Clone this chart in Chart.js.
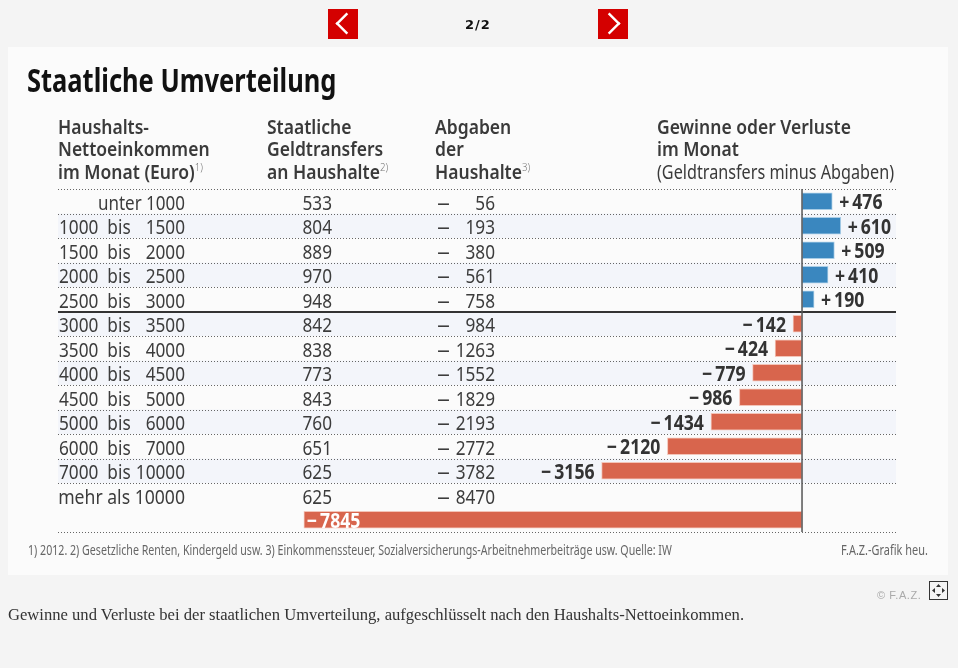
<!DOCTYPE html>
<html lang="de">
<head>
<meta charset="utf-8">
<title>Staatliche Umverteilung</title>
<script src="https://cdn.jsdelivr.net/npm/chart.js@4"></script>
<style>
  html, body { margin: 0; padding: 0; background: #f4f4f4; overflow: hidden; }
  body { width: 958px; height: 668px; position: relative; }
  #panel { position: absolute; left: 8px; top: 47px; width: 940px; height: 528px; background: #fbfbfb; }
  #chart { position: absolute; left: 0; top: 0; }
  .t { position: absolute; white-space: nowrap; transform-origin: left top; font-family: "Noto Sans", sans-serif; }
  .head { font-weight: 600; font-size: 20px; line-height: 22.4px; color: #3a3a3a; transform: scaleX(.875); }
  .head sup { font-weight: 300; font-size: 11px; line-height: 0; color: #777; }
  .btn { position: absolute; top: 9px; width: 30px; height: 30px; background: #d40000; }
  .btn i { position: absolute; top: 8px; width: 13px; height: 13px; border: solid #fff; border-width: 2px 0 0 2px; box-sizing: border-box; }
</style>
</head>
<body>
<div id="panel"></div>
<canvas id="chart" width="958" height="668"></canvas>

<div class="btn" style="left:328px"><i style="left:12px;transform:rotate(-45deg) scale(1.2)"></i></div>
<div class="btn" style="left:598px"><i style="left:5px;transform:rotate(135deg) scale(1.2)"></i></div>
<div class="t" style="left:465px;top:17px;font:bold 13px 'DejaVu Sans';letter-spacing:1px;color:#111">2/2</div>

<div class="t" style="left:27px;top:58px;font-weight:700;font-size:33px;line-height:44px;color:#111;transform:scaleX(.772)">Staatliche Umverteilung</div>
<div class="t head" style="left:58px;top:116px">Haushalts-<br>Nettoeinkommen<br>im Monat (Euro)<sup>1)</sup></div>
<div class="t head" style="left:267px;top:116px">Staatliche<br>Geldtransfers<br>an Haushalte<sup>2)</sup></div>
<div class="t head" style="left:435px;top:116px">Abgaben<br>der<br>Haushalte<sup>3)</sup></div>
<div class="t head" style="left:657px;top:116px">Gewinne oder Verluste<br>im Monat</div>
<div class="t head" style="left:657px;top:160.8px;font-weight:400;transform:scaleX(.81)">(Geldtransfers minus Abgaben)</div>

<div class="t" style="left:28px;top:541px;font-size:13.5px;color:#666;transform:scaleX(.788)">1) 2012. 2) Gesetzliche Renten, Kindergeld usw. 3) Einkommenssteuer, Sozialversicherungs-Arbeitnehmerbeiträge usw. Quelle: IW</div>
<div class="t" style="left:841px;top:541px;font-size:13.5px;color:#666;transform:scaleX(.81)">F.A.Z.-Grafik heu.</div>

<div class="t" style="left:877px;top:589px;font:11px 'Liberation Sans';letter-spacing:.55px;color:#aaa">© F.A.Z.</div>
<svg style="position:absolute;left:929px;top:581px" width="19" height="19">
  <rect x=".5" y=".5" width="18" height="18" fill="none" stroke="#333"/>
  <path d="M9.5 3l2.5 3h-5zM9.5 16l2.5-3h-5zM3 9.5l3-2.5v5zM16 9.5l-3-2.5v5z" fill="#333"/>
</svg>

<div class="t" style="left:8px;top:605px;font:16.6px 'Liberation Serif';color:#333">Gewinne und Verluste bei der staatlichen Umverteilung, aufgeschlüsselt nach den Haushalts-Nettoeinkommen.</div>

<script>
// last slot has no income row: the -7845 bar sits below "mehr als 10000"
const incomeLabels = ['unter 1000', '1000 bis 1500', '1500 bis 2000', '2000 bis 2500', '2500 bis 3000',
  '3000 bis 3500', '3500 bis 4000', '4000 bis 4500', '4500 bis 5000', '5000 bis 6000',
  '6000 bis 7000', '7000 bis 10000', 'mehr als 10000', ''];
const transfers = [533, 804, 889, 970, 948, 842, 838, 773, 843, 760, 651, 625, 625];
const levies = [56, 193, 380, 561, 758, 984, 1263, 1552, 1829, 2193, 2772, 3782, 8470];
const balance = [476, 610, 509, 410, 190, -142, -424, -779, -986, -1434, -2120, -3156, null, -7845];
const bandRows = [1, 3, 5, 7, 9, 11];
const solidRule = 5; // line above this row is the solid one

const BLUE = '#3a87bf';
const RED = '#d8654d';
const INK = '#3c3c3c';

function text(ctx, str, x, y, font, color, align, sx) {
  ctx.save();
  ctx.translate(x, y);
  ctx.scale(sx, 1);
  ctx.font = font;
  ctx.fillStyle = color;
  ctx.textAlign = align;
  ctx.textBaseline = 'alphabetic';
  ctx.fillText(str, 0, 0);
  ctx.restore();
}

const tablePlugin = {
  id: 'table',
  beforeDatasetsDraw(chart) {
    const { ctx, chartArea: a, scales: { y } } = chart;
    const rowH = y.getPixelForValue(1) - y.getPixelForValue(0);
    ctx.save();
    ctx.fillStyle = '#f3f5fa';
    bandRows.forEach(r => ctx.fillRect(a.left, y.getPixelForValue(r) - rowH / 2, a.width, rowH));
    for (let r = 0; r <= incomeLabels.length; r++) {
      if (r === incomeLabels.length - 1) continue; // last row spans two slots
      const py = Math.round(y.getPixelForValue(r) - rowH / 2);
      ctx.beginPath();
      if (r === solidRule) {
        ctx.setLineDash([]);
        ctx.lineWidth = 2;
        ctx.strokeStyle = '#333';
        ctx.moveTo(a.left, py);
        ctx.lineTo(a.right, py);
      } else {
        ctx.setLineDash([1, 2]);
        ctx.lineWidth = 1;
        ctx.strokeStyle = '#666';
        ctx.moveTo(a.left, py + 0.5);
        ctx.lineTo(a.right, py + 0.5);
      }
      ctx.stroke();
    }
    ctx.restore();
  },
  afterDatasetsDraw(chart) {
    const { ctx, chartArea: a, scales: { x, y } } = chart;
    const font = '400 20px "Noto Sans"';
    const sx = 0.86;
    // zero line
    ctx.save();
    ctx.strokeStyle = '#555';
    ctx.lineWidth = 1.5;
    ctx.beginPath();
    ctx.moveTo(x.getPixelForValue(0), a.top);
    ctx.lineTo(x.getPixelForValue(0), a.bottom);
    ctx.stroke();
    ctx.restore();

    incomeLabels.forEach((label, i) => {
      if (!label) return;
      const base = y.getPixelForValue(i) + 8.5;
      const parts = label.split(' bis ');
      if (parts.length === 2) {
        text(ctx, parts[0], 59, base, font, INK, 'left', sx);
        text(ctx, 'bis', 119, base, font, INK, 'center', sx);
        text(ctx, parts[1], 185, base, font, INK, 'right', sx);
      } else {
        text(ctx, label, 185, base, font, INK, 'right', label.length > 10 ? 0.88 : 0.85);
      }
      text(ctx, String(transfers[i]), 332, base, font, INK, 'right', sx);
      text(ctx, '–', 437, base, font, INK, 'left', 1.3);
      text(ctx, String(levies[i]), 495, base, font, INK, 'right', sx);
    });

    const bold = '700 21px "Noto Sans"';
    const boldSx = 0.84;
    balance.forEach((v, i) => {
      if (v === null) return;
      const base = y.getPixelForValue(i) + 8;
      const px = x.getPixelForValue(v);
      const str = (v > 0 ? '+' : '−') + '\u2009' + Math.abs(v);
      if (v > 0) text(ctx, str, px + 7, base, bold, '#333', 'left', boldSx);
      else if (i === balance.length - 1) text(ctx, str, px + 3, base, bold, '#fff', 'left', boldSx);
      else text(ctx, str, px - 7, base, bold, '#333', 'right', boldSx);
    });
  }
};

new Chart(document.getElementById('chart'), {
  type: 'bar',
  data: {
    labels: incomeLabels,
    datasets: [{
      data: balance,
      backgroundColor: balance.map(v => v > 0 ? BLUE : RED),
      borderColor: balance.map(v => v > 0 ? '#a9cde6' : '#f3c4b8'),
      borderWidth: 1,
      borderSkipped: false,
      barThickness: 17
    }]
  },
  plugins: [tablePlugin],
  options: {
    indexAxis: 'y',
    responsive: false,
    animation: false,
    layout: { padding: { left: 58, right: 62, top: 189, bottom: 136 } },
    plugins: { legend: { display: false }, tooltip: { enabled: false } },
    scales: {
      x: { display: false, min: -11717, max: 1480 },
      y: { display: false }
    }
  }
});
</script>
</body>
</html>
